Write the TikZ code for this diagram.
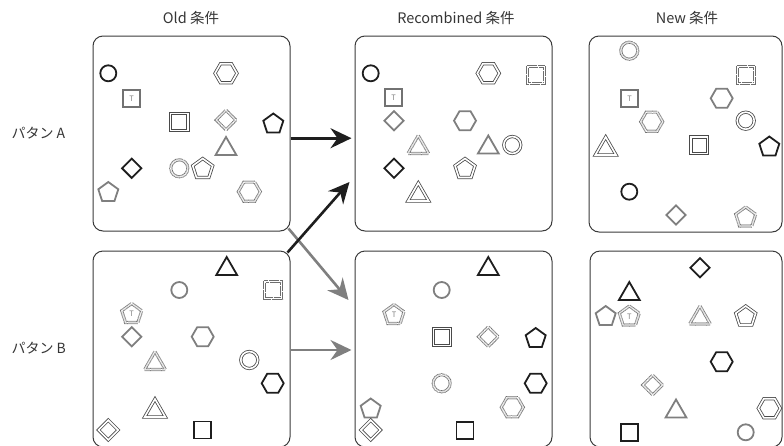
\documentclass[tikz,border=0pt]{standalone}
\usepackage{fontspec}
\setmainfont{Noto Sans CJK JP}
\usetikzlibrary{shapes.geometric,arrows.meta,calc}

\definecolor{ink}{HTML}{1E1E1E}
\definecolor{mid}{HTML}{7F7F7F}
\definecolor{dbl}{HTML}{4A4A4A}
\definecolor{dots}{HTML}{6E6E6E}
\definecolor{frameline}{HTML}{3A3A3A}

\tikzset{
  panel/.style={draw=frameline, line width=1pt, rounded corners=10pt, inner sep=0pt},
  % line treatments
  blk/.style={draw=ink, line width=1.8pt},
  gry/.style={draw=mid, line width=1.8pt},
  dbo/.style={draw=dbl, line width=0.8pt, double=white, double distance=1.6pt},
  dto/.style={draw=dots, line width=0.9pt, double=white, double distance=1.3pt,
              dash pattern=on 0.6pt off 0.5pt},
  % squares drawn as two separate thin outlines
  sqdb/.style={rectangle, inner sep=0pt, draw=dbl, line width=0.8pt},
  sqdt/.style={rectangle, inner sep=0pt, draw=dots, line width=0.8pt,
               dash pattern=on 0.6pt off 0.5pt},
  % outlines
  circ/.style={circle, inner sep=0pt, minimum size=16pt},
  sqr/.style={rectangle, inner sep=0pt, minimum size=17pt},
  hexa/.style={regular polygon, regular polygon sides=6, inner sep=0pt, minimum size=22pt},
  penta/.style={regular polygon, regular polygon sides=5, inner sep=0pt, minimum size=21pt},
  tria/.style={regular polygon, regular polygon sides=3, inner sep=0pt, minimum size=24pt},
  dia/.style={diamond, aspect=1, inner sep=0pt, minimum size=20pt},
  tag/.style={font=\fontsize{7.5}{7.5}\selectfont, text=mid},
  tsq/.style={rectangle, inner sep=0pt, minimum width=17pt, minimum height=17pt,
              draw=mid!90!black, line width=2pt, tag},
  title/.style={font=\fontsize{14.5}{16}\selectfont, text=ink!90},
  rowlabel/.style={font=\fontsize{14}{16}\selectfont, text=ink!90, anchor=west},
  tip/.style={-{Stealth[length=21pt,width=20pt,inset=7pt]}},
  arrowblk/.style={draw=ink, line width=2.6pt, tip},
  arrowgry/.style={draw=mid, line width=2.6pt, tip},
}

\begin{document}
\begin{tikzpicture}[x=1pt, y=-1pt]
\useasboundingbox (0,0) rectangle (784,445);

% column titles and row labels
\node[title] (tOld) at (191,18) {Old 条件};
\node[title] (tRec) at (456,18) {Recombined 条件};
\node[title] (tNew) at (687,18) {New 条件};
\node[rowlabel] (lA) at (8,133) {パタン A};
\node[rowlabel] (lB) at (8,348) {パタン B};

% panels
\node[panel, minimum width=197pt, minimum height=195pt] (oldA) at (191.5,133.5) {};
\node[panel, minimum width=197pt, minimum height=195pt] (recA) at (453.5,133.5) {};
\node[panel, minimum width=193pt, minimum height=196pt] (newA) at (685.5,134) {};
\node[panel, minimum width=197pt, minimum height=196pt] (oldB) at (191.5,349) {};
\node[panel, minimum width=197pt, minimum height=196pt] (recB) at (453.5,349) {};
\node[panel, minimum width=192pt, minimum height=196pt] (newB) at (686,349) {};

% ---- Old, pattern A
\node[circ, blk]  (oa1)  at (108.3,73.3) {};
\node[tsq]        (oa2)  at (131.5,98.5) {T};
\node[hexa, dbo]  (oa3)  at (226,73.3) {};
\node[sqdb, minimum size=19.5pt] (oa4) at (179.3,121.7) {};
\node[sqdb, minimum size=15pt]   (oa4i) at (oa4) {};
\node[dia, dto]   (oa5)  at (226,120) {};
\node[penta, blk] (oa6)  at (273.3,124) {};
\node[tria, gry]  (oa7)  at (226,149) {};
\node[dia, blk]   (oa8)  at (131.7,168.3) {};
\node[circ, dto, minimum size=17pt] (oa9) at (179.3,168.3) {};
\node[penta, dbo] (oa10) at (202.7,169) {};
\node[penta, gry] (oa11) at (108.3,192.5) {};
\node[hexa, dto]  (oa12) at (249.3,191.7) {};

% ---- Recombined, pattern A
\node[circ, blk]  (ra1)  at (370.7,73.3) {};
\node[hexa, dbo]  (ra2)  at (488.3,73.3) {};
\node[sqdt, minimum size=19pt] (ra3) at (535.7,75) {};
\node[sqdt, minimum size=15pt] (ra3i) at (ra3) {};
\node[tsq]        (ra4)  at (393.5,97.5) {T};
\node[dia, gry]   (ra5)  at (394,120.7) {};
\node[hexa, gry]  (ra6)  at (465,120.7) {};
\node[tria, dto]  (ra7)  at (418.3,147.5) {};
\node[tria, gry]  (ra8)  at (488.3,147.5) {};
\node[circ, dbo, minimum size=17pt] (ra9) at (512.3,145) {};
\node[dia, blk]   (ra10) at (394,168.3) {};
\node[penta, dbo] (ra11) at (465,169) {};
\node[tria, dbo]  (ra12) at (418.3,195) {};

% ---- New, pattern A
\node[circ, dto, minimum size=17pt] (na1) at (629.3,50.7) {};
\node[sqdt, minimum size=19pt] (na2) at (745.7,75) {};
\node[sqdt, minimum size=15pt] (na2i) at (na2) {};
\node[tsq]        (na3)  at (629.5,98.5) {T};
\node[hexa, gry]  (na4)  at (721.7,98.3) {};
\node[hexa, dto]  (na5)  at (651.7,121.7) {};
\node[circ, dbo, minimum size=17pt] (na6) at (745.7,120.7) {};
\node[tria, dbo]  (na7)  at (605.7,149) {};
\node[sqdb, minimum size=18.5pt] (na8) at (699,145) {};
\node[sqdb, minimum size=14pt]   (na8i) at (na8) {};
\node[penta, blk] (na9)  at (769.3,147) {};
\node[circ, blk]  (na10) at (629.3,191.7) {};
\node[dia, gry]   (na11) at (676,215) {};
\node[penta, dto] (na12) at (745.7,217.5) {};

% ---- Old, pattern B
\node[tria, blk]  (ob1)  at (226.7,269) {};
\node[circ, gry]  (ob2)  at (179.3,290) {};
\node[sqdt, minimum size=19pt] (ob3) at (273.3,290) {};
\node[sqdt, minimum size=15pt] (ob3i) at (ob3) {};
\node[penta, dto, tag] (ob4) at (131.7,314) {T};
\node[dia, gry]   (ob5)  at (131.7,336.7) {};
\node[hexa, gry]  (ob6)  at (202.7,336.7) {};
\node[tria, dto]  (ob7)  at (155,363.5) {};
\node[circ, dbo, minimum size=17pt] (ob8) at (249.3,360) {};
\node[hexa, blk]  (ob9)  at (272.7,383.3) {};
\node[tria, dbo]  (ob10) at (155,411) {};
\node[dia, dbo]   (ob11) at (108.3,430) {};
\node[sqr, blk]   (ob12) at (202.7,430) {};

% ---- Recombined, pattern B
\node[tria, blk]  (rb1)  at (488.3,269) {};
\node[circ, gry]  (rb2)  at (441.7,290) {};
\node[penta, dto, tag] (rb3) at (394,315) {T};
\node[sqdb, minimum size=19.5pt] (rb4) at (441.7,336.7) {};
\node[sqdb, minimum size=15pt]   (rb4i) at (rb4) {};
\node[dia, dto]   (rb5)  at (488.3,336.7) {};
\node[penta, blk] (rb6)  at (535.7,338.5) {};
\node[circ, dto, minimum size=17pt] (rb7) at (441.7,383.3) {};
\node[hexa, blk]  (rb8)  at (535.7,383.3) {};
\node[penta, gry] (rb9)  at (370.7,409) {};
\node[hexa, dto]  (rb10) at (512.3,407.3) {};
\node[dia, dbo]   (rb11) at (370.7,430) {};
\node[sqr, blk]   (rb12) at (465,430.7) {};

% ---- New, pattern B
\node[dia, blk]   (nb1)  at (700,267.7) {};
\node[tria, blk]  (nb2)  at (629.3,294) {};
\node[penta, gry] (nb3)  at (605.7,316.5) {};
\node[penta, dto, tag] (nb4) at (629.3,316.5) {T};
\node[tria, dto]  (nb5)  at (700,318) {};
\node[penta, dbo] (nb6)  at (745.7,316.5) {};
\node[hexa, blk]  (nb7)  at (721.7,361.7) {};
\node[dia, dto]   (nb8)  at (652.7,385) {};
\node[tria, gry]  (nb9)  at (676,411.5) {};
\node[hexa, dbo]  (nb10) at (769.3,408.3) {};
\node[sqr, blk]   (nb11) at (629.3,432.3) {};
\node[circ, gry]  (nb12) at (745.7,432.3) {};

% recombination arrows
\draw[arrowblk] ($(oldA.east)+(0,4.7)$) -- ($(recA.west)+(-3,4.7)$);
\draw[arrowgry] ($(oldA.south east)+(-2,-3)$) -- ($(recB.west)+(-6,-49)$);
\draw[arrowblk] ($(oldB.north east)+(-3,2)$) -- ($(recA.west)+(-5,48.5)$);
\draw[arrowgry] ($(oldB.east)+(0,1)$) -- ($(recB.west)+(-3,1)$);
\end{tikzpicture}
\end{document}
